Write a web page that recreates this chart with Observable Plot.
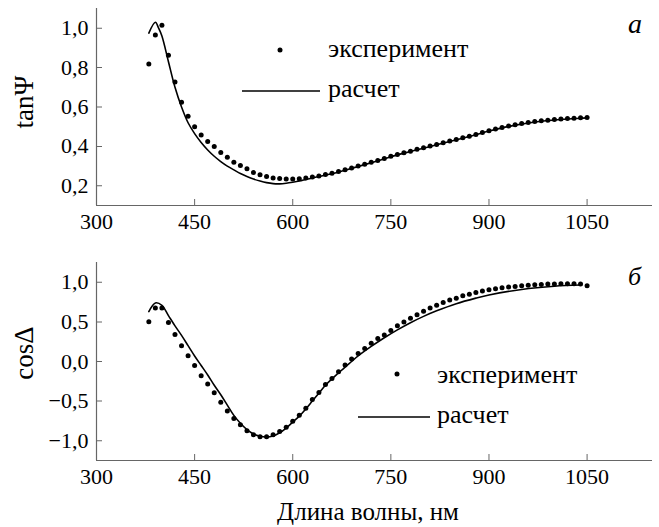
<!DOCTYPE html>
<html>
<head>
<meta charset="utf-8">
<script src="https://cdn.jsdelivr.net/npm/d3@7"></script>
<script src="https://cdn.jsdelivr.net/npm/@observablehq/plot@0.6"></script>
<style>
  body { margin: 0; background: #fff; }
  #wrap { position: relative; width: 659px; height: 527px; background: #fff; }
  #wrap svg { display: block; }
  #overlay { position: absolute; left: 0; top: 0; pointer-events: none; }
</style>
</head>
<body>
<div id="wrap">
  <div id="panelTop"></div>
  <div id="panelBottom"></div>
</div>
<script>
// ---- data ----
const xTicks = [300, 450, 600, 750, 900, 1050];
const tanTicks = [0.2, 0.4, 0.6, 0.8, 1.0];
const cosTicks = [-1.0, -0.5, 0.0, 0.5, 1.0];

// experiment, tanΨ (10 nm step, 380..1050)
const expWl = [380,390,400,410,420,430,440,450,460,470,480,490,500,510,520,530,540,550,560,570,580,590,600,610,620,630,640,650,660,670,680,690,700,710,720,730,740,750,760,770,780,790,800,810,820,830,840,850,860,870,880,890,900,910,920,930,940,950,960,970,980,990,1000,1010,1020,1030,1040,1050];
const expTan = [0.818,0.966,1.015,0.863,0.727,0.624,0.553,0.500,0.458,0.425,0.399,0.369,0.345,0.320,0.303,0.286,0.267,0.256,0.247,0.239,0.237,0.234,0.234,0.236,0.240,0.245,0.250,0.257,0.264,0.272,0.281,0.290,0.300,0.309,0.319,0.329,0.339,0.350,0.359,0.368,0.376,0.385,0.393,0.402,0.410,0.419,0.427,0.435,0.444,0.452,0.461,0.470,0.480,0.488,0.496,0.503,0.510,0.516,0.521,0.526,0.530,0.533,0.536,0.539,0.541,0.543,0.545,0.547];
const expCos = [0.503,0.677,0.677,0.494,0.341,0.200,0.074,-0.050,-0.180,-0.285,-0.395,-0.515,-0.625,-0.720,-0.800,-0.873,-0.924,-0.950,-0.950,-0.925,-0.885,-0.830,-0.755,-0.680,-0.590,-0.480,-0.390,-0.290,-0.215,-0.130,-0.045,0.030,0.100,0.165,0.232,0.290,0.335,0.390,0.450,0.500,0.545,0.590,0.635,0.675,0.710,0.745,0.775,0.800,0.830,0.850,0.870,0.890,0.905,0.920,0.930,0.940,0.948,0.956,0.963,0.968,0.973,0.977,0.980,0.982,0.983,0.983,0.980,0.955];

// calculation, tanΨ
const calcTanWl = [380,390,395,400,410,420,430,440,450,460,470,480,490,500,510,520,530,540,550,560,570,580,590,600,610,620,630,640,660,680,700,720,740,760,780,800,820,840,860,880,900,920,940,960,980,1000,1020,1040,1050];
const calcTan = [0.975,1.030,1.000,0.960,0.830,0.700,0.600,0.520,0.465,0.420,0.382,0.350,0.323,0.300,0.281,0.262,0.247,0.234,0.224,0.216,0.211,0.210,0.213,0.218,0.224,0.232,0.240,0.247,0.261,0.279,0.298,0.317,0.337,0.357,0.374,0.391,0.408,0.425,0.442,0.459,0.478,0.494,0.508,0.519,0.528,0.534,0.539,0.543,0.545];

// calculation, cosΔ
const calcCosWl = [380,390,400,410,420,430,440,450,460,470,480,490,500,510,520,530,540,550,560,570,580,590,600,610,620,630,640,650,660,670,680,690,700,720,740,760,780,800,820,850,880,900,950,1000,1040];
const calcCos = [0.630,0.740,0.710,0.580,0.450,0.330,0.200,0.070,-0.050,-0.170,-0.300,-0.420,-0.550,-0.680,-0.780,-0.860,-0.915,-0.945,-0.955,-0.940,-0.900,-0.840,-0.765,-0.690,-0.600,-0.500,-0.400,-0.300,-0.220,-0.145,-0.070,0.000,0.070,0.190,0.300,0.400,0.490,0.570,0.640,0.730,0.800,0.840,0.910,0.950,0.965];

const xLabel = "Длина волны, нм";
const tanLabel = "tanΨ";
const cosLabel = "cosΔ";
const legendDots = "эксперимент";
const legendLine = "расчет";
const panelLetters = ["а", "б"];

// ---- helpers ----
const FONT = "Liberation Serif";
const fmt = d => d.toFixed(1).replace(".", ",").replace("-", "\u2212");
const expTanData = expWl.map((w, i) => ({w, v: expTan[i]}));
const expCosData = expWl.map((w, i) => ({w, v: expCos[i]}));
const calcTanData = calcTanWl.map((w, i) => ({w, v: calcTan[i]}));
const calcCosData = calcCosWl.map((w, i) => ({w, v: calcCos[i]}));

const xDomain = [300, 1150];
const axisColor = "#666";

function panel({height, marginTop, marginBottom, yDomain, yTicks, exp, calc}) {
  return Plot.plot({
    width: 659,
    height,
    marginLeft: 96,
    marginRight: 7,
    marginTop,
    marginBottom,
    x: {domain: xDomain},
    y: {domain: yDomain},
    style: {fontFamily: FONT, fontSize: "22px", color: "#000", background: "transparent", overflow: "visible"},
    marks: [
      Plot.ruleX([xDomain[0]], {stroke: axisColor, strokeWidth: 1.2}),
      Plot.ruleY([yDomain[0]], {stroke: axisColor, strokeWidth: 1.2}),
      Plot.axisX({ticks: xTicks, tickSize: -6, tickPadding: 14, tickFormat: d => String(d), label: null, stroke: axisColor, fill: "#000", fontSize: 22, rotate: 0.001}),
      Plot.axisY({ticks: yTicks, tickSize: -6, tickPadding: 14, tickFormat: fmt, label: null, stroke: axisColor, fill: "#000", fontSize: 22, rotate: 0.001}),
      Plot.line(calc, {x: "w", y: "v", stroke: "#000", strokeWidth: 1.6, curve: "catmull-rom"}),
      Plot.dot(exp, {x: "w", y: "v", r: 2.5, fill: "#000", stroke: "none"})
    ]
  });
}

const svgTop = panel({height: 255, marginTop: 8, marginBottom: 50, yDomain: [0.1, 1.1], yTicks: tanTicks, exp: expTanData, calc: calcTanData});
const svgBottom = panel({height: 272, marginTop: 7, marginBottom: 67, yDomain: [-1.25, 1.25], yTicks: cosTicks, exp: expCosData, calc: calcCosData});
document.getElementById("panelTop").appendChild(svgTop);
document.getElementById("panelBottom").appendChild(svgBottom);

// ---- overlay: titles, legends, panel letters ----
const ns = "http://www.w3.org/2000/svg";
const ov = document.createElementNS(ns, "svg");
ov.setAttribute("id", "overlay");
ov.setAttribute("width", 659);
ov.setAttribute("height", 527);
function txt(s, x, y, size, opts = {}) {
  const t = document.createElementNS(ns, "text");
  t.textContent = s;
  t.setAttribute("x", 0);
  t.setAttribute("y", 0);
  t.setAttribute("font-size", size);
  t.setAttribute("font-family", FONT);
  t.setAttribute("fill", "#000");
  if (opts.anchor) t.setAttribute("text-anchor", opts.anchor);
  if (opts.italic) t.setAttribute("font-style", "italic");
  t.setAttribute("transform", `translate(${x},${y}) rotate(${opts.rotate ?? 0.001})`);
  ov.appendChild(t);
}
function circ(cx, cy, r) {
  const c = document.createElementNS(ns, "circle");
  c.setAttribute("cx", cx); c.setAttribute("cy", cy); c.setAttribute("r", r); c.setAttribute("fill", "#000");
  ov.appendChild(c);
}
function seg(x1, x2, y) {
  const l = document.createElementNS(ns, "line");
  l.setAttribute("x1", x1); l.setAttribute("x2", x2); l.setAttribute("y1", y); l.setAttribute("y2", y);
  l.setAttribute("stroke", "#000"); l.setAttribute("stroke-width", 1.6);
  ov.appendChild(l);
}
// y-axis titles
txt(tanLabel, 33, 102, 27, {anchor: "middle", rotate: -90});
txt(cosLabel, 33, 353, 27, {anchor: "middle", rotate: -90});
// x title
txt(xLabel, 368, 520, 25, {anchor: "middle"});
// top legend
circ(280, 50, 2.5);
txt(legendDots, 328, 57, 26);
seg(242, 320, 91);
txt(legendLine, 328, 97, 26);
// bottom legend
circ(397, 374, 2.5);
txt(legendDots, 437, 383, 26);
seg(358, 430, 417);
txt(legendLine, 437, 423, 26);
// panel letters
txt(panelLetters[0], 628, 33, 28, {italic: true});
txt(panelLetters[1], 628, 285, 26, {italic: true});
document.getElementById("wrap").appendChild(ov);
</script>
</body>
</html>
